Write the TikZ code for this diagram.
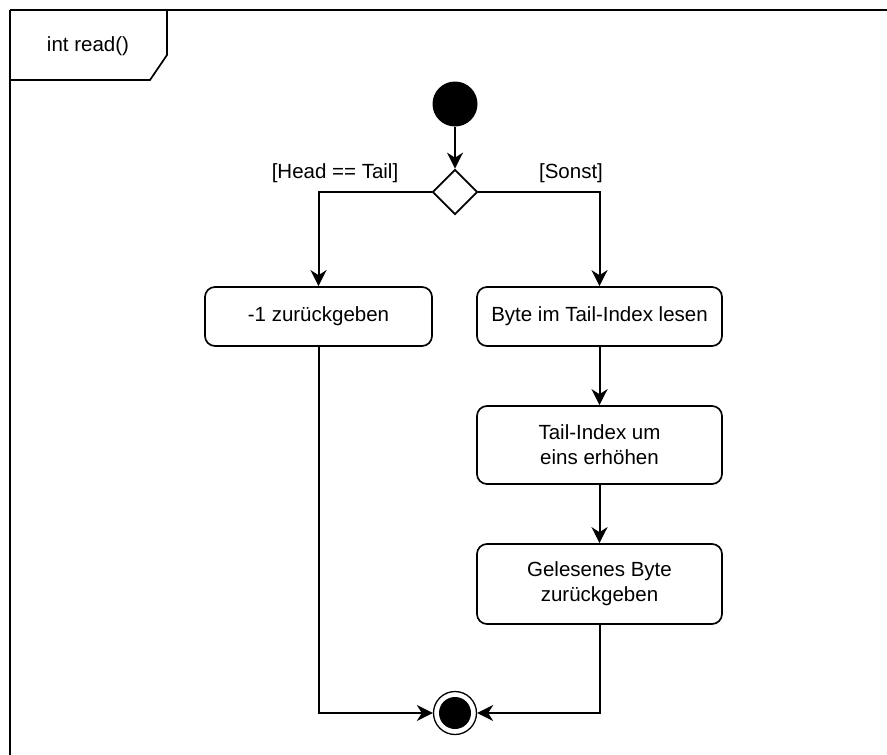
\documentclass[tikz,border=0pt]{standalone}
\usepackage{fontspec}
\setmainfont{Liberation Sans}
\usetikzlibrary{arrows.meta,shapes.geometric}
\begin{document}
\begin{tikzpicture}[x=1pt,y=-1pt,
  line width=1.7pt,
  every node/.style={font=\fontsize{20.5}{25}\selectfont},
  action/.style={draw,rounded corners=10pt,minimum height=59pt,align=center,inner sep=0pt},
  flow/.style={draw=black,line width=2pt,-{Stealth[length=16pt,width=16pt,inset=5pt]}},
  guard/.style={inner sep=0pt}]
\useasboundingbox (0,0) rectangle (887,755);
% frame with its name tab
\draw (10,10) -- (900,10);
\draw (10,10) -- (10,770);
\draw (10,80) -- (150,80) -- (167,55) -- (167,10);
\node (title) at (88,46) {int read()};
% start, decision, final
\node (start) [circle,fill=black,minimum size=45pt,inner sep=0pt] at (455,104) {};
\node (dec) [diamond,draw,fill=white,minimum width=45pt,minimum height=45pt,inner sep=0pt,aspect=1] at (455,192) {};
\node (endring) [circle,draw,line width=1.3pt,minimum size=43pt,inner sep=0pt] at (455,713) {};
\node (enddot) [circle,fill=black,minimum size=32pt,inner sep=0pt] at (455,713) {};
% actions
\node (ret) [action,minimum width=227pt] at (318.5,316.5) {-1 zurückgeben};
\node (rd) [action,minimum width=245pt] at (599.5,316.5) {Byte im Tail-Index lesen};
\node (inc) [action,minimum width=245pt,minimum height=78pt] at (599.5,445) {Tail-Index um\\eins erhöhen};
\node (give) [action,minimum width=245pt,minimum height=80pt] at (599.5,584) {Gelesenes Byte\\zurückgeben};
% guards
\node (gl) [guard] at (335,173) {[Head == Tail]};
\node (gr) [guard] at (571,173) {[Sonst]};
% connectors
\draw[flow] (start) -- (dec);
\draw[flow] (dec.west) -| (ret.north);
\draw[flow] (dec.east) -| (rd.north);
\draw[flow] (rd) -- (inc);
\draw[flow] (inc) -- (give);
\draw[flow] (ret.south) |- (endring.west);
\draw[flow] (give.south) |- (endring.east);
\end{tikzpicture}
\end{document}
